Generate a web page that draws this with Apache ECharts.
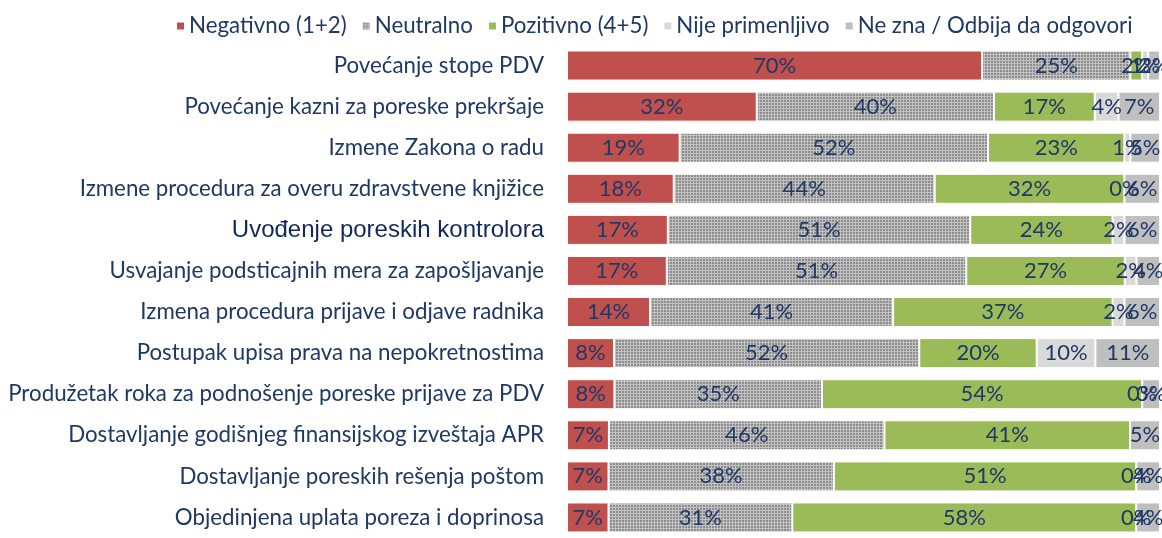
<!DOCTYPE html>
<html>
<head>
<meta charset="utf-8">
<script src="https://cdn.jsdelivr.net/npm/echarts@6/dist/echarts.min.js"></script>
<style>
  html, body { margin: 0; padding: 0; background: #fff; }
  #chart { width: 1162px; height: 538px; }
</style>
</head>
<body>
<div id="chart"></div>
<script>
// kategorije (odozgo nadole)
const categories = [
  'Povećanje stope PDV',
  'Povećanje kazni za poreske prekršaje',
  'Izmene Zakona o radu',
  'Izmene procedura za overu zdravstvene knjižice',
  'Uvođenje poreskih kontrolora',
  'Usvajanje podsticajnih mera za zapošljavanje',
  'Izmena procedura prijave i odjave radnika',
  'Postupak upisa prava na nepokretnostima',
  'Produžetak roka za podnošenje poreske prijave za PDV',
  'Dostavljanje godišnjeg finansijskog izveštaja APR',
  'Dostavljanje poreskih rešenja poštom',
  'Objedinjena uplata poreza i doprinosa'
];

const seriesNames = ['Negativno (1+2)', 'Neutralno', 'Pozitivno (4+5)', 'Nije primenljivo', 'Ne zna / Odbija da odgovori'];

const negativno = [70, 32, 19, 18, 17, 17, 14, 8, 8, 7, 7, 7];
const neutralno = [25, 40, 52, 44, 51, 51, 41, 52, 35, 46, 38, 31];
const pozitivno = [2, 17, 23, 32, 24, 27, 37, 20, 54, 41, 51, 58];
const nijePrimenljivo = [1, 4, 1, 0, 2, 2, 2, 10, 0, null, 0, 0];
const neZna = [2, 7, 5, 6, 6, 4, 6, 11, 3, 5, 4, 4];

const allValues = [negativno, neutralno, pozitivno, nijePrimenljivo, neZna];

// 100% stacked: svaki red se skalira na zbir
const rowTotals = categories.map((c, i) =>
  allValues.reduce((s, arr) => s + (arr[i] || 0), 0));

// tackasta tekstura za "Neutralno"
const pat = document.createElement('canvas');
pat.width = 3; pat.height = 3;
const pctx = pat.getContext('2d');
pctx.fillStyle = '#8C8C8C';
pctx.fillRect(0, 0, 3, 3);
pctx.fillStyle = '#C2C2C2';
pctx.fillRect(0, 0, 3, 1);
pctx.fillRect(0, 0, 1, 3);

const colors = ['#C0504D', { image: pat, repeat: 'repeat' }, '#9BBB59', '#D9D9D9', '#BFBFBF'];
const textColor = '#1F3864';
const font = 'Lato';

const series = allValues.map((arr, si) => ({
  name: seriesNames[si],
  type: 'bar',
  stack: 'total',
  barWidth: 30,
  data: arr.map((v, i) => v == null ? null : v / rowTotals[i] * 100),
  itemStyle: { color: colors[si], borderColor: '#fff', borderWidth: 1 },
  label: {
    show: true,
    position: 'inside',
    color: textColor,
    fontFamily: font,
    fontSize: 22,
    formatter: p => allValues[si][p.dataIndex] + '%'
  },
  emphasis: { disabled: true }
}));

const chart = echarts.init(document.getElementById('chart'));
chart.setOption({
  animation: false,
  legend: {
    top: 10,
    left: 170,
    icon: 'rect',
    itemWidth: 9,
    itemHeight: 9,
    itemGap: 14,
    textStyle: { color: textColor, fontFamily: font, fontSize: 22.3, padding: [0, 0, 0, -1] },
    data: seriesNames
  },
  grid: { left: 567, right: 2, top: 45, height: 500 },
  xAxis: {
    type: 'value', min: 0, max: 100, show: false
  },
  yAxis: {
    type: 'category',
    inverse: true,
    data: categories,
    axisLine: { show: false },
    axisTick: { show: false },
    axisLabel: {
      margin: 23,
      color: textColor,
      fontFamily: font,
      fontSize: 22.3,
      formatter: v => v === 'Uvođenje poreskih kontrolora' ? '{a|' + v + '}' : v,
      rich: {
        a: { fontFamily: 'Liberation Sans', fontSize: 24, color: '#10285A' }
      }
    }
  },
  series: series
});
</script>
</body>
</html>
